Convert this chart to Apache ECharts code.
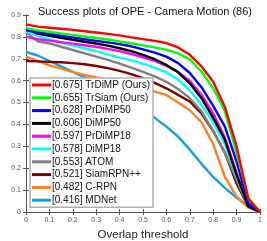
<!DOCTYPE html>
<html><head><meta charset="utf-8">
<script src="https://cdn.jsdelivr.net/npm/echarts@6/dist/echarts.min.js"></script>
<style>html,body{margin:0;padding:0;background:#fff}#c{width:267px;height:241px}</style>
</head><body><div id="c"></div>
<script>
const thresholds = [0,0.05,0.1,0.15,0.2,0.25,0.3,0.35,0.4,0.45,0.5,0.55,0.6,0.65,0.7,0.75,0.8,0.85,0.9,0.95,1];
const names = ['[0.675] TrDiMP (Ours)','[0.655] TrSiam (Ours)','[0.628] PrDiMP50','[0.606] DiMP50','[0.597] PrDiMP18','[0.578] DiMP18','[0.553] ATOM','[0.521] SiamRPN++','[0.482] C-RPN','[0.416] MDNet'];
const colors = ['#ff0000','#00ff00','#0000ff','#000000','#ff00ff','#00ffff','#808080','#800000','#ff8020','#10a0e8'];
const trdimp = [0.857,0.847,0.842,0.837,0.832,0.826,0.82,0.814,0.807,0.798,0.79,0.782,0.772,0.752,0.718,0.665,0.595,0.48,0.30,0.06,0];
const trsiam = [0.84,0.83,0.823,0.816,0.809,0.802,0.795,0.788,0.779,0.771,0.761,0.752,0.742,0.725,0.697,0.642,0.565,0.46,0.27,0.065,0];
const prdimp50 = [0.83,0.822,0.813,0.805,0.797,0.789,0.782,0.775,0.767,0.757,0.743,0.728,0.71,0.68,0.635,0.57,0.485,0.39,0.23,0.04,0];
const dimp50 = [0.838,0.815,0.805,0.796,0.787,0.778,0.77,0.76,0.748,0.735,0.718,0.698,0.672,0.638,0.588,0.52,0.43,0.33,0.17,0.025,0];
const prdimp18 = [0.80,0.79,0.783,0.776,0.769,0.762,0.755,0.745,0.735,0.722,0.707,0.69,0.668,0.64,0.60,0.535,0.45,0.34,0.18,0.03,0];
const dimp18 = [0.825,0.805,0.79,0.775,0.76,0.748,0.735,0.72,0.705,0.693,0.678,0.66,0.638,0.605,0.556,0.49,0.41,0.31,0.16,0.025,0];
const atom = [0.82,0.78,0.77,0.755,0.74,0.725,0.71,0.695,0.678,0.66,0.64,0.62,0.595,0.562,0.52,0.46,0.37,0.27,0.15,0.025,0];
const siamrpn = [0.69,0.688,0.686,0.684,0.68,0.675,0.667,0.657,0.645,0.63,0.612,0.59,0.565,0.535,0.505,0.45,0.37,0.27,0.13,0.025,0];
const crpn = [0.71,0.69,0.67,0.655,0.64,0.626,0.615,0.605,0.595,0.583,0.57,0.55,0.535,0.50,0.465,0.41,0.31,0.16,0.07,0.02,0];
const mdnet = [0.732,0.715,0.69,0.665,0.64,0.615,0.59,0.56,0.53,0.50,0.465,0.43,0.39,0.345,0.285,0.22,0.16,0.11,0.065,0.03,0.005];
const xTicks = [0,0.1,0.2,0.3,0.4,0.5,0.6,0.7,0.8,0.9,1];
const yTicks = [0,0.1,0.2,0.3,0.4,0.5,0.6,0.7,0.8,0.9];
const allData = [trdimp,trsiam,prdimp50,dimp50,prdimp18,dimp18,atom,siamrpn,crpn,mdnet];

const font = 'Liberation Sans, Arial, sans-serif';
const series = allData.map((d,i)=>({
  name: names[i], type:'line', symbol:'none', smooth:false,
  data: d.map((v,j)=>[thresholds[j], v]),
  lineStyle:{color:colors[i], width:2.4}, itemStyle:{color:colors[i]},
  z: 2, animation:false
})).reverse();
const fmt = v => String(Math.round(v*10)/10);
const chart = echarts.init(document.getElementById('c'));
chart.setOption({
  animation:false,
  title:{text:'Success plots of OPE - Camera Motion (86)', left:140, textAlign:'center', top:1,
    textStyle:{fontFamily:font, fontSize:11, fontWeight:'normal', color:'#111'}},
  grid:{left:26, right:7, top:15, bottom:29, outerBoundsMode:'none', containLabel:false},
  legend:{orient:'vertical', left:30, top:78, z:50, zlevel:1, data:names, itemWidth:19, itemHeight:3, itemGap:0.8,
    backgroundColor:'#fff', borderColor:'#b0b0b0', borderWidth:1.5, padding:[1,3,1,2],
    textStyle:{fontFamily:font, fontSize:10, color:'#111', lineHeight:12, padding:[0,0,0,-4]}, icon:'rect',
    itemStyle:{borderWidth:0}},
  xAxis:[{type:'value', min:0, max:1, interval:0.1, name:'Overlap threshold', nameLocation:'middle', nameGap:14,
    nameTextStyle:{fontFamily:font, fontSize:11.5, color:'#222'},
    axisLine:{lineStyle:{color:'#555', width:1}}, axisTick:{inside:true, length:3, lineStyle:{color:'#555'}},
    axisLabel:{fontFamily:font, fontSize:7, color:'#555', margin:5, formatter:fmt}, splitLine:{show:false}},
    {type:'value', position:'top', min:0, max:1, interval:0.1, axisLine:{lineStyle:{color:'#555'}},
    axisTick:{inside:true, length:3, lineStyle:{color:'#555'}}, axisLabel:{show:false}, splitLine:{show:false}}],
  yAxis:[{type:'value', min:0, max:0.9, interval:0.1, name:'Success rate', nameLocation:'middle', nameGap:16,
    nameTextStyle:{fontFamily:font, fontSize:11.5, color:'#222'},
    axisLine:{show:true, lineStyle:{color:'#555', width:1}}, axisTick:{show:true, inside:true, length:3, lineStyle:{color:'#555'}},
    axisLabel:{fontFamily:font, fontSize:7, color:'#555', margin:5, formatter:fmt}, splitLine:{show:false}},
    {type:'value', position:'right', min:0, max:0.9, interval:0.1, axisLine:{show:true, lineStyle:{color:'#555'}},
    axisTick:{show:true, inside:true, length:3, lineStyle:{color:'#555'}}, axisLabel:{show:false}, splitLine:{show:false}}],
  series: series
});
</script></body></html>
